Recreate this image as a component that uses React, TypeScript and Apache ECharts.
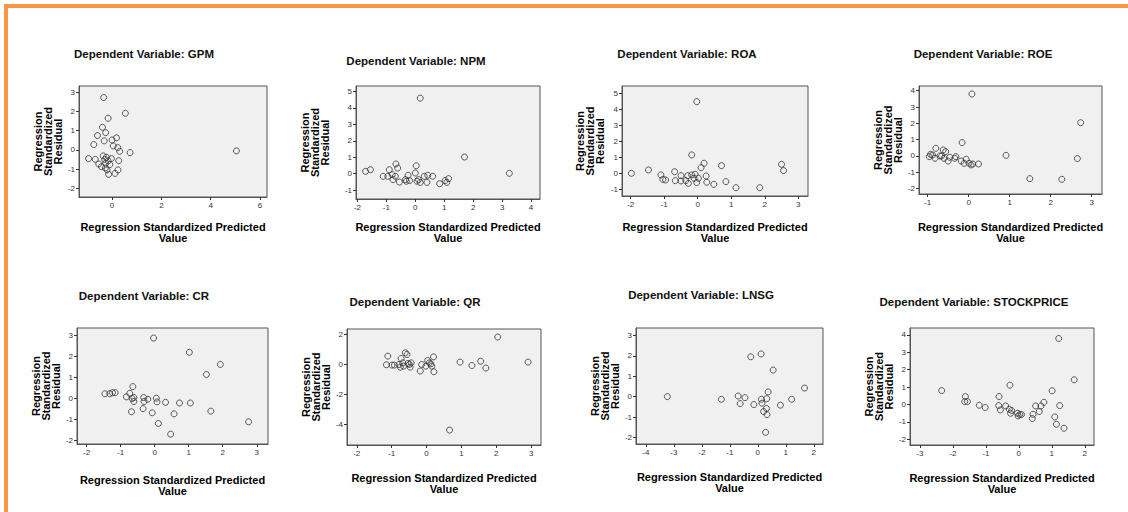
import React, { useEffect, useRef } from "react";
import * as echarts from "echarts";

// ---------- data ----------
const panelNames = ["GPM", "NPM", "ROA", "ROE", "CR", "QR", "LNSG", "STOCKPRICE"];

const gpmX = [-0.34, 0.54, -0.16, -0.39, -0.26, -0.59, -0.32, 0.0, 0.18, -0.74, 0.05, 0.23, 0.31, 0.73, -0.95, -0.68, -0.54, -0.36, -0.3, -0.23, -0.26, -0.03, 0.27, -0.09, -0.27, -0.2, 0.24, -0.14, 0.12, 5.04, -0.16, -0.43];
const gpmY = [2.73, 1.91, 1.65, 1.18, 0.9, 0.75, 0.47, 0.52, 0.63, 0.28, 0.21, 0.12, -0.07, -0.14, -0.45, -0.49, -0.73, -0.31, -0.49, -0.38, -0.69, -0.45, -0.56, -0.76, -0.94, -1.04, -1.04, -1.27, -1.22, -0.05, -0.57, -0.87];

const npmX = [0.17, 1.7, 3.25, -1.72, -1.55, -1.11, -0.95, -0.9, -0.8, -0.77, -0.67, -0.61, -0.69, -0.55, -0.34, -0.25, -0.2, -0.31, 0.03, 0.0, 0.06, 0.11, 0.17, 0.31, 0.43, 0.4, 0.6, 0.84, 1.03, 1.09, 1.15];
const npmY = [4.59, 1.01, 0.02, 0.14, 0.24, -0.16, -0.16, 0.24, -0.06, -0.36, 0.59, 0.34, -0.16, -0.51, -0.36, -0.1, -0.42, -0.46, 0.48, 0.04, -0.46, -0.36, -0.53, -0.16, -0.1, -0.53, -0.16, -0.61, -0.42, -0.53, -0.3];

const roaX = [-0.03, -0.18, 0.19, 0.1, 0.71, 2.5, 2.56, -1.98, -1.47, -1.1, -1.04, -0.96, -0.69, -0.67, -0.5, -0.5, -0.36, -0.3, -0.28, -0.18, -0.11, -0.08, -0.03, 0.02, 0.25, 0.27, 0.48, 0.84, 1.14, 1.85];
const roaY = [4.48, 1.15, 0.63, 0.35, 0.48, 0.56, 0.17, 0.0, 0.21, -0.1, -0.38, -0.42, 0.1, -0.46, -0.15, -0.48, -0.46, -0.15, -0.63, -0.1, -0.31, -0.06, -0.58, -0.31, -0.17, -0.56, -0.69, -0.52, -0.9, -0.9];

const roeX = [0.08, 2.73, -0.16, 0.91, 2.65, 1.49, 2.27, -0.8, -0.96, -0.93, -0.88, -0.82, -0.66, -0.62, -0.56, -0.6, -0.5, -0.46, -0.34, -0.31, -0.18, -0.11, -0.06, 0.01, 0.06, 0.1, 0.24, -0.7];
const roeY = [3.8, 2.04, 0.82, 0.04, -0.16, -1.39, -1.43, 0.47, -0.04, 0.1, 0.06, -0.14, 0.0, 0.37, 0.27, -0.14, -0.31, -0.08, -0.14, -0.04, -0.31, -0.45, -0.2, -0.45, -0.55, -0.49, -0.49, 0.0];

const crX = [-0.03, 1.02, 1.93, 1.52, 2.76, 1.65, 1.05, 0.73, 0.57, 0.47, 0.11, -0.07, 0.32, 0.07, 0.05, -0.2, -0.32, -0.31, -0.34, -0.64, -0.66, -0.61, -0.61, -0.68, -0.73, -0.83, -1.16, -1.24, -1.32, -1.46];
const crY = [2.87, 2.19, 1.61, 1.13, -1.13, -0.62, -0.23, -0.23, -0.75, -1.72, -1.21, -0.7, -0.2, -0.18, 0.0, -0.05, 0.03, -0.16, -0.5, 0.55, -0.02, 0.03, -0.16, -0.65, 0.23, 0.06, 0.26, 0.26, 0.21, 0.21];

const qrX = [2.04, 2.91, 0.66, 0.96, 1.3, 1.55, 1.7, -1.11, -1.15, -0.99, -0.92, -0.79, -0.73, -0.75, -0.68, -0.61, -0.56, -0.53, -0.49, -0.44, -0.47, -0.66, -0.18, -0.14, -0.02, 0.03, 0.12, 0.15, 0.2, 0.21, 0.08];
const qrY = [1.84, 0.16, -4.4, 0.16, -0.07, 0.22, -0.24, 0.56, -0.02, -0.04, -0.04, 0.0, 0.4, -0.18, 0.11, 0.78, 0.67, 0.07, 0.0, 0.11, -0.18, -0.11, -0.44, 0.0, -0.11, 0.27, 0.04, -0.11, 0.51, -0.49, 0.11];

const lnsgX = [-3.23, -1.3, -0.7, -0.63, -0.46, -0.14, -0.25, 0.12, 0.55, 0.37, 0.32, 0.13, 0.15, 0.21, 0.31, 0.33, 0.28, 0.81, 1.21, 1.67];
const lnsgY = [0.0, -0.13, 0.03, -0.34, -0.05, -0.39, 1.95, 2.09, 1.3, 0.23, -0.1, -0.13, -0.32, -0.73, -0.58, -0.88, -1.75, -0.42, -0.13, 0.42];

const spX = [1.21, 1.68, -0.27, 1.01, -2.34, -1.62, -1.64, -1.56, -1.2, -1.02, -0.6, -0.61, -0.56, -0.4, -0.29, -0.25, -0.22, -0.04, -0.02, 0.03, 0.08, 0.41, 0.43, 0.51, 0.62, 0.67, 0.76, 1.24, 1.09, 1.14, 1.37];
const spY = [3.79, 1.42, 1.11, 0.79, 0.8, 0.46, 0.17, 0.17, -0.04, -0.17, 0.46, -0.06, -0.31, -0.08, -0.27, -0.5, -0.34, -0.5, -0.65, -0.57, -0.57, -0.8, -0.56, -0.08, -0.4, -0.08, 0.13, -0.06, -0.71, -1.13, -1.36];

const xSeries = [gpmX, npmX, roaX, roeX, crX, qrX, lnsgX, spX];
const ySeries = [gpmY, npmY, roaY, roeY, crY, qrY, lnsgY, spY];

// axis ranges and tick labels
const xRanges = [[-1.34, 6.28], [-2.05, 4.31], [-2.26, 3.29], [-1.21, 3.25], [-2.28, 3.33], [-2.28, 3.28], [-4.35, 2.33], [-3.3, 2.28]];
const yRanges = [[-2.45, 3.33], [-1.54, 5.33], [-1.42, 5.46], [-2.33, 4.29], [-2.19, 3.35], [-5.4, 2.38], [-2.32, 3.36], [-2.32, 4.39]];
const xTickLabels = [[0, 2, 4, 6], [-2, -1, 0, 1, 2, 3, 4], [-2, -1, 0, 1, 2, 3], [-1, 0, 1, 2, 3], [-2, -1, 0, 1, 2, 3], [-2, -1, 0, 1, 2, 3], [-4, -3, -2, -1, 0, 1, 2], [-3, -2, -1, 0, 1, 2]];
const yTickLabels = [[-2, -1, 0, 1, 2, 3], [-1, 0, 1, 2, 3, 4, 5], [-1, 0, 1, 2, 3, 4, 5], [-2, -1, 0, 1, 2, 3, 4], [-2, -1, 0, 1, 2, 3], [-4, -2, 0, 2], [-2, -1, 0, 1, 2, 3], [-2, -1, 0, 1, 2, 3, 4]];

const xAxisTitle = "Regression Standardized Predicted\nValue";
const yAxisTitle = "Regression\nStandardized\nResidual";
const titlePrefix = "Dependent Variable: ";

// ---------- layout (pixels) ----------
const frames = [
  { l: 79, t: 86, r: 267, b: 197, tx: 144, ty: 54, xGap: 24.5, yGap: 16 },
  { l: 356, t: 86, r: 540, b: 199, tx: 416, ty: 61, xGap: 22, yGap: 26 },
  { l: 622, t: 86, r: 808, b: 196, tx: 687, ty: 54, xGap: 25.5, yGap: 17 },
  { l: 919, t: 86, r: 1102, b: 194, tx: 983, ty: 54, xGap: 27.5, yGap: 16 },
  { l: 77, t: 328, r: 268, b: 444, tx: 144, ty: 296, xGap: 30, yGap: 15 },
  { l: 347, t: 329, r: 541, b: 445, tx: 415, ty: 302, xGap: 27.5, yGap: 15 },
  { l: 636, t: 328, r: 823, b: 444, tx: 701, ty: 295, xGap: 27.5, yGap: 16 },
  { l: 910, t: 328, r: 1094, b: 445, tx: 974, ty: 302, xGap: 27.5, yGap: 15 },
];

const FONT = "'Liberation Sans', Arial, Helvetica, sans-serif";

export default function App() {
  const ref = useRef<HTMLDivElement>(null);

  useEffect(() => {
    if (!ref.current) return;
    const chart = echarts.init(ref.current, undefined, { renderer: "svg" });

    const option: any = {
      animation: false,
      backgroundColor: "#ffffff",
      textStyle: { fontFamily: FONT },
      title: panelNames.map((n, i) => ({
        text: titlePrefix + n,
        left: frames[i].tx,
        top: frames[i].ty - 7,
        textAlign: "center",
        padding: 0,
        textStyle: { fontSize: 11.5, fontWeight: "bold", color: "#111", fontFamily: FONT, lineHeight: 14 },
      })),
      graphic: [
        {
          type: "rect",
          shape: { x: 6, y: 6, width: 1300, height: 700 },
          style: { fill: "none", stroke: "#F79646", lineWidth: 4 },
          silent: true,
        },
      ],
      grid: frames.map((f) => ({
        left: f.l,
        top: f.t,
        width: f.r - f.l,
        height: f.b - f.t,
        show: true,
        backgroundColor: "#F0F0F0",
        borderColor: "#555",
        borderWidth: 1,
        containLabel: false,
        outerBoundsMode: "none",
      })),
      xAxis: frames.map((f, i) => ({
        type: "value",
        gridIndex: i,
        min: xRanges[i][0],
        max: xRanges[i][1],
        name: xAxisTitle,
        nameLocation: "middle",
        nameGap: f.xGap,
        nameTextStyle: { fontSize: 11, fontWeight: "bold", color: "#000", lineHeight: 11, fontFamily: FONT },
        axisLine: { show: true, onZero: false, lineStyle: { color: "#555", width: 1 } },
        axisTick: { show: true, length: 3, customValues: xTickLabels[i], lineStyle: { color: "#333" } },
        axisLabel: { customValues: xTickLabels[i], fontSize: 8, color: "#333", margin: 4, fontFamily: FONT },
        splitLine: { show: false },
      })),
      yAxis: frames.map((f, i) => ({
        type: "value",
        gridIndex: i,
        min: yRanges[i][0],
        max: yRanges[i][1],
        name: yAxisTitle,
        nameLocation: "middle",
        nameRotate: 90,
        nameGap: f.yGap,
        nameTextStyle: { fontSize: 11, fontWeight: "bold", color: "#000", lineHeight: 10, fontFamily: FONT },
        axisLine: { show: true, onZero: false, lineStyle: { color: "#555", width: 1 } },
        axisTick: { show: true, length: 3, customValues: yTickLabels[i], lineStyle: { color: "#333" } },
        axisLabel: { customValues: yTickLabels[i], fontSize: 8, color: "#333", margin: 4, fontFamily: FONT },
        splitLine: { show: false },
      })),
      series: panelNames.map((n, i) => ({
        type: "scatter",
        name: n,
        xAxisIndex: i,
        yAxisIndex: i,
        symbol: "circle",
        symbolSize: 6,
        silent: true,
        itemStyle: { color: "rgba(0,0,0,0)", borderColor: "#333", borderWidth: 1 },
        data: xSeries[i].map((v, j) => [v, ySeries[i][j]]),
      })),
    };

    chart.setOption(option);
    return () => chart.dispose();
  }, []);

  return (
    <div
      ref={ref}
      style={{ position: "fixed", left: 0, top: 0, width: 1128, height: 512 }}
    />
  );
}
